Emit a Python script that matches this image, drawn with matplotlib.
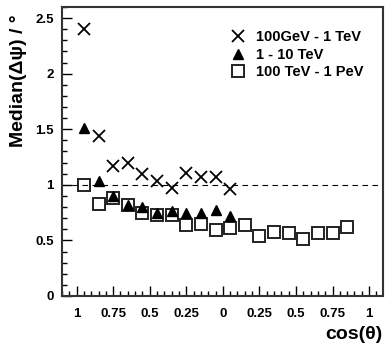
import numpy as np
import matplotlib.pyplot as plt
from matplotlib.ticker import MultipleLocator, FixedLocator

plt.rcParams['font.family'] = ['Liberation Sans', 'DejaVu Sans']
plt.rcParams['font.weight'] = 'bold'

# bin centres along the (mirrored) cos(theta) axis
x_low = [-0.95, -0.85, -0.75, -0.65, -0.55, -0.45, -0.35, -0.25, -0.15, -0.05, 0.05]
x_high = [-0.95, -0.85, -0.75, -0.65, -0.55, -0.45, -0.35, -0.25, -0.15, -0.05,
          0.05, 0.15, 0.25, 0.35, 0.45, 0.55, 0.65, 0.75, 0.85]

med_100gev = [2.40, 1.44, 1.17, 1.20, 1.10, 1.03, 0.97, 1.11, 1.07, 1.07, 0.96]
med_1tev = [1.51, 1.03, 0.90, 0.82, 0.80, 0.75, 0.76, 0.75, 0.75, 0.77, 0.72]
med_100tev = [1.00, 0.83, 0.88, 0.82, 0.75, 0.73, 0.73, 0.64, 0.65, 0.59,
              0.61, 0.64, 0.54, 0.58, 0.57, 0.51, 0.57, 0.57, 0.62]

labels = ["100GeV - 1 TeV", "1 - 10 TeV", "100 TeV - 1 PeV"]
xticks = [-1, -0.75, -0.5, -0.25, 0, 0.25, 0.5, 0.75, 1]
xticklabels = ["1", "0.75", "0.5", "0.25", "0", "0.25", "0.5", "0.75", "1"]

fig = plt.figure(figsize=(3.92, 3.47), dpi=100)
ax = fig.add_axes([0.158, 0.147, 0.819, 0.833])

ax.axhline(1.0, color="black", lw=0.8, ls=(0, (5, 4)), zorder=1)

ax.plot(x_low, med_100gev, ls="none", marker="x", ms=8, mew=1.3,
        color="black", label=labels[0], zorder=3)
ax.plot(x_low, med_1tev, ls="none", marker="^", ms=7,
        color="black", label=labels[1], zorder=3)
ax.plot(x_high, med_100tev, ls="none", marker="s", ms=8.5, mew=1.4,
        mfc="none", mec="#222222", label=labels[2], zorder=2)

ax.set_xlim(-1.1, 1.095)
ax.set_ylim(0, 2.6)
ax.xaxis.set_major_locator(FixedLocator(xticks))
ax.set_xticklabels(xticklabels)
ax.xaxis.set_minor_locator(MultipleLocator(0.05))
ax.yaxis.set_minor_locator(MultipleLocator(0.1))
ax.set_yticks([0, 0.5, 1, 1.5, 2, 2.5])
ax.set_yticklabels(["0", "0.5", "1", "1.5", "2", "2.5"])

ax.tick_params(which="both", direction="in", top=False, right=False,
               labelsize=9.5, width=1)
ax.tick_params(which="major", length=7)
ax.tick_params(which="minor", length=3.5)
ax.tick_params(axis="x", pad=9)
ax.tick_params(axis="y", pad=6)
for s in ax.spines.values():
    s.set_linewidth(1.5)
    s.set_color("#333333")

ax.set_ylabel("Median(\u0394\u03c8) / \u00b0", fontsize=14, fontweight="bold")
ax.yaxis.set_label_coords(-0.135, 0.975)
ax.yaxis.label.set_horizontalalignment("right")
ax.yaxis.label.set_verticalalignment("center")
ax.set_xlabel("cos(\u03b8)", fontsize=14, fontweight="bold")
ax.xaxis.set_label_coords(1.0, -0.105)
ax.xaxis.label.set_horizontalalignment("right")
ax.xaxis.label.set_verticalalignment("top")

ax.legend(loc="upper right", frameon=False, fontsize=10.5, handletextpad=0.6,
          labelspacing=0.25, bbox_to_anchor=(0.98, 0.965), handlelength=1.2)

fig.savefig("out.png", dpi=100)
